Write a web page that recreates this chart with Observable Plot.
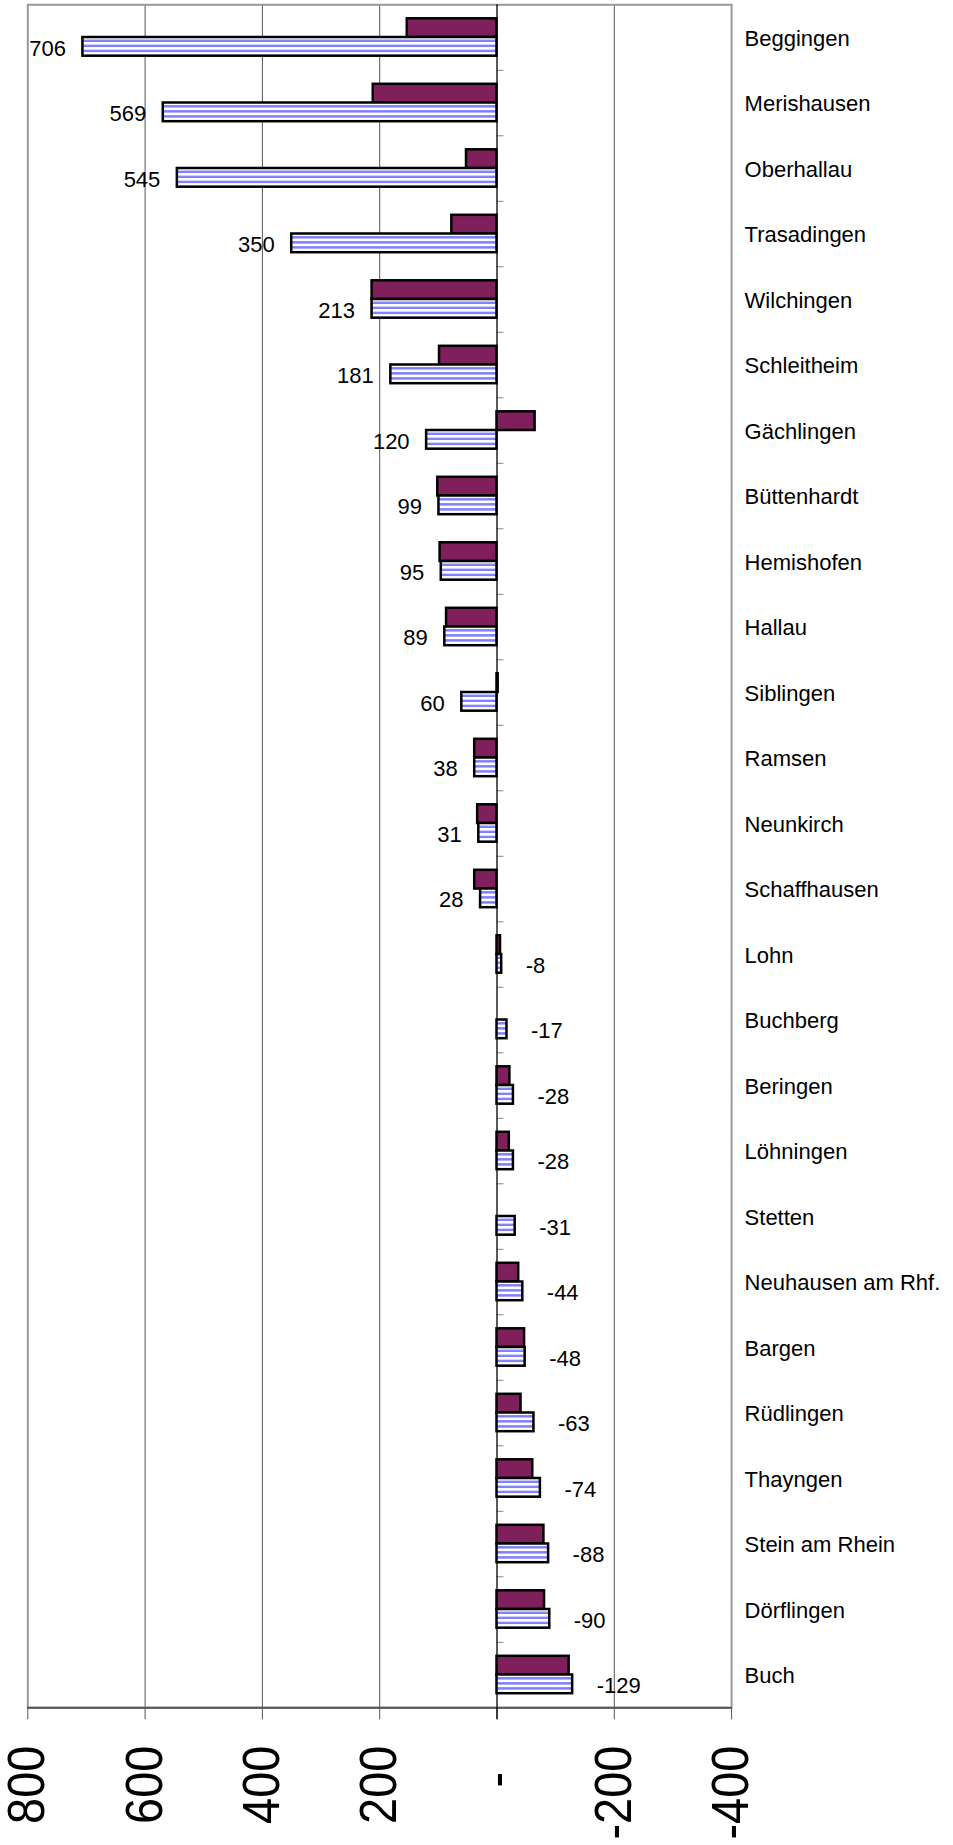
<!DOCTYPE html>
<html><head><meta charset="utf-8">
<script src="https://cdn.jsdelivr.net/npm/d3@7"></script>
<script src="https://cdn.jsdelivr.net/npm/@observablehq/plot@0.6"></script>
<style>body{margin:0;background:#fff}</style>
</head><body><div id="chart"></div>
<script>
const municipalities = ["Beggingen","Merishausen","Oberhallau","Trasadingen","Wilchingen","Schleitheim","Gächlingen","Büttenhardt","Hemishofen","Hallau","Siblingen","Ramsen","Neunkirch","Schaffhausen","Lohn","Buchberg","Beringen","Löhningen","Stetten","Neuhausen am Rhf.","Bargen","Rüdlingen","Thayngen","Stein am Rhein","Dörflingen","Buch"];
const stripedValues = [706,569,545,350,213,181,120,99,95,89,60,38,31,28,-8,-17,-28,-28,-31,-44,-48,-63,-74,-88,-90,-129];
const plumValues = [153,211,52,77,213,98,-65,101,97,86,-2,38,33,38,-6,0,-22,-21,0,-37,-47,-41,-61,-80,-81,-123];
const xTicks = [800,600,400,200,0,-200,-400];
const gridValues = [600,400,200,-200];

const rows = municipalities.map((name, i) => ({name, striped: stripedValues[i], plum: plumValues[i]}));

const W = 953, H = 1845, mTop = 4.3, mBottom = 137.7, mLeft = 27.3, mRight = 221.9;
const plotH = H - mTop - mBottom;
const bw = plotH / municipalities.length;
const barH = 18.7, outer = 14;

const svg = Plot.plot({
  width: W, height: H,
  marginTop: mTop, marginBottom: mBottom, marginLeft: mLeft, marginRight: mRight,
  style: {fontFamily: "'Liberation Sans', Arial, sans-serif", background: "white", color: "black"},
  x: {domain: [-400, 800], reverse: true, axis: null},
  y: {domain: municipalities, padding: 0, round: false, axis: null},
  marks: [
    Plot.ruleX(gridValues, {stroke: "#555", strokeWidth: 1}),
    Plot.frame({stroke: "#999", strokeWidth: 2}),
    Plot.ruleY([municipalities[municipalities.length - 1]], {y: d => d, dy: bw / 2, stroke: "#555", strokeWidth: 2}),
    Plot.ruleX(xTicks, {x: d => d, stroke: "#555", strokeWidth: 1, insetTop: plotH, insetBottom: -12}),
    Plot.ruleY(municipalities.slice(1), {y: d => d, x1: () => 0, x2: () => 0, insetRight: -7, dy: -bw / 2, stroke: "#888", strokeWidth: 1}),
    Plot.ruleX([0], {x: d => d, stroke: "black", strokeWidth: 1.3, insetBottom: -12}),
    Plot.barX(rows.filter(d => d.plum !== 0), {
      y: "name", x1: () => 0, x2: "plum",
      fill: "#7f1f5b", stroke: "black", strokeWidth: 2.5,
      insetTop: outer, insetBottom: bw - outer - barH
    }),
    Plot.barX(rows, {
      y: "name", x1: () => 0, x2: "striped",
      fill: "url(#hstripes)", stroke: "black", strokeWidth: 2.5,
      insetTop: outer + barH, insetBottom: bw - outer - 2 * barH
    }),
    Plot.text(rows.filter(d => d.striped > 0), {
      x: "striped", y: "name", text: d => String(d.striped),
      textAnchor: "end", dx: -17, dy: 11, fontSize: 22, fill: "black"
    }),
    Plot.text(rows.filter(d => d.striped < 0), {
      x: "striped", y: "name", text: d => String(d.striped),
      textAnchor: "start", dx: 24, dy: 11, fontSize: 22, fill: "black"
    }),
    Plot.text(municipalities, {
      y: d => d, text: d => d, frameAnchor: "right",
      textAnchor: "start", dx: 13, dy: 1, fontSize: 22, fill: "black"
    }),
    Plot.text(xTicks, {
      x: d => d, frameAnchor: "bottom",
      text: d => d === 0 ? "-\u2007" : String(d),
      rotate: -90, textAnchor: "end", lineAnchor: "middle",
      dy: 38, fontSize: 52, fill: "black"
    })
  ]
});

d3.select(svg).insert("defs", ":first-child").html(
  '<pattern id="hstripes" patternUnits="objectBoundingBox" x="0" y="0" width="1" height="0.27" patternContentUnits="userSpaceOnUse">' +
  '<rect width="2000" height="20" fill="white"/>' +
  '<rect y="2.6" width="2000" height="2.9" fill="#8080ff"/>' +
  '</pattern>'
);

document.getElementById("chart").appendChild(svg);

// condense the large rotated tick labels along their reading direction
d3.select(svg).selectAll('g[font-size="52"] text').each(function () {
  const len = this.getComputedTextLength();
  this.setAttribute("textLength", (len * 0.9).toFixed(1));
  this.setAttribute("lengthAdjust", "spacingAndGlyphs");
});
</script>
</body></html>
